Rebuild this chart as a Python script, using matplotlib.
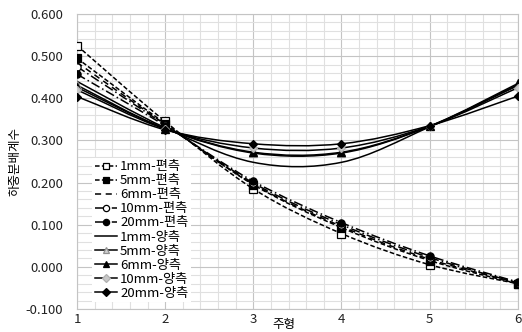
import matplotlib
matplotlib.use("Agg")
import matplotlib.pyplot as plt
import numpy as np
from matplotlib.lines import Line2D
from matplotlib.path import Path
from matplotlib.patches import PathPatch
from matplotlib.ticker import MultipleLocator, FormatStrFormatter

plt.rcParams['font.family'] = ['Noto Sans CJK KR', 'DejaVu Sans']

girders = [1, 2, 3, 4, 5, 6]

# 편측 (one-sided)
one_1mm = [0.525, 0.345, 0.185, 0.079, 0.005, -0.040]
one_5mm = [0.495, 0.340, 0.195, 0.093, 0.015, -0.040]
one_6mm = [0.485, 0.338, 0.196, 0.096, 0.018, -0.038]
one_10mm = [0.475, 0.337, 0.199, 0.100, 0.022, -0.038]
one_20mm = [0.457, 0.335, 0.203, 0.105, 0.026, -0.036]

# 양측 (two-sided)
two_1mm = [0.440, 0.330, 0.248, 0.248, 0.332, 0.430]
two_5mm = [0.431, 0.328, 0.270, 0.270, 0.333, 0.432]
two_6mm = [0.426, 0.328, 0.272, 0.272, 0.334, 0.435]
two_10mm = [0.420, 0.327, 0.282, 0.282, 0.334, 0.425]
two_20mm = [0.404, 0.325, 0.292, 0.292, 0.335, 0.405]

series = [
    ("1mm-편측", one_1mm, dict(ls=(0, (3, 1.5)), marker="s", mfc="white", mec="black")),
    ("5mm-편측", one_5mm, dict(ls=(0, (3, 1.5)), marker="s", mfc="black", mec="black")),
    ("6mm-편측", one_6mm, dict(ls=(0, (4, 3)), marker="None", mfc="black", mec="black")),
    ("10mm-편측", one_10mm, dict(ls=(0, (6, 2, 1, 2)), marker="o", mfc="white", mec="black")),
    ("20mm-편측", one_20mm, dict(ls=(0, (6, 2, 1, 2)), marker="o", mfc="black", mec="black")),
    ("1mm-양측", two_1mm, dict(ls="-", marker="None", mfc="black", mec="black")),
    ("5mm-양측", two_5mm, dict(ls="-", marker="^", mfc="#d0d0d0", mec="#909090")),
    ("6mm-양측", two_6mm, dict(ls="-", marker="^", mfc="black", mec="black")),
    ("10mm-양측", two_10mm, dict(ls="-", marker="D", mfc="#c8c8c8", mec="#b0b0b0")),
    ("20mm-양측", two_20mm, dict(ls="-", marker="D", mfc="black", mec="black")),
]


def smooth_path(x, y):
    # Excel-style smoothed line: cubic bezier through the points
    pts = np.column_stack([x, y]).astype(float)
    verts = [pts[0]]
    codes = [Path.MOVETO]
    n = len(pts)
    for i in range(n - 1):
        p0 = pts[i - 1] if i > 0 else pts[i]
        p1 = pts[i]
        p2 = pts[i + 1]
        p3 = pts[i + 2] if i + 2 < n else pts[i + 1]
        c1 = p1 + (p2 - p0) / 6.0
        c2 = p2 - (p3 - p1) / 6.0
        verts += [c1, c2, p2]
        codes += [Path.CURVE4] * 3
    return Path(verts, codes)


fig = plt.figure(figsize=(5.22, 3.32), dpi=100)
ax = fig.add_axes([0.1475, 0.0693, 0.8445, 0.8887])

handles = []
for label, vals, st in series:
    patch = PathPatch(smooth_path(girders, vals), fill=False, edgecolor="black",
                      linewidth=1.1, linestyle=st["ls"], zorder=3)
    ax.add_patch(patch)
    if st["marker"] != "None":
        ms = 4.2 if st["marker"] == "D" else 5.2
        ax.plot(girders, vals, ls="none", marker=st["marker"], ms=ms,
                mfc=st["mfc"], mec=st["mec"], mew=0.9, zorder=4)
    handles.append(Line2D([], [], color="black", lw=1.1, ls=st["ls"],
                          marker=st["marker"], ms=4.5, mfc=st["mfc"],
                          mec=st["mec"], mew=0.9, label=label))

ax.set_xlim(1, 6)
ax.set_ylim(-0.1, 0.6)
ax.xaxis.set_major_locator(MultipleLocator(1))
ax.xaxis.set_minor_locator(MultipleLocator(0.2))
ax.yaxis.set_major_locator(MultipleLocator(0.1))
ax.yaxis.set_minor_locator(MultipleLocator(0.02))
ax.yaxis.set_major_formatter(FormatStrFormatter("%.3f"))
ax.grid(which="major", color="#c4c4c4", lw=0.8, zorder=0)
ax.grid(which="minor", color="#e0e0e0", lw=0.8, zorder=0)
ax.set_axisbelow(True)
ax.tick_params(which="both", length=0, labelsize=9.5, colors="#222222")
ax.tick_params(axis="x", pad=3)
ax.tick_params(axis="y", pad=10)
for s in ax.spines.values():
    s.set_color("#c4c4c4")
    s.set_linewidth(0.8)

ax.set_xlabel("주형", fontsize=9)
ax.xaxis.set_label_coords(0.47, -0.03)
ax.set_ylabel("하중분배계수", fontsize=9)
ax.yaxis.set_label_coords(-0.125, 0.5)

leg = ax.legend(handles=handles, loc="lower left", bbox_to_anchor=(0.02, 0.0),
                fontsize=9.5, frameon=True, framealpha=1, edgecolor="none",
                facecolor="white", handlelength=1.7, handletextpad=0.2,
                labelspacing=0.08, borderpad=0.2, fancybox=False)
leg.set_zorder(5)

plt.savefig("out.png", dpi=100)
plt.close(fig)
